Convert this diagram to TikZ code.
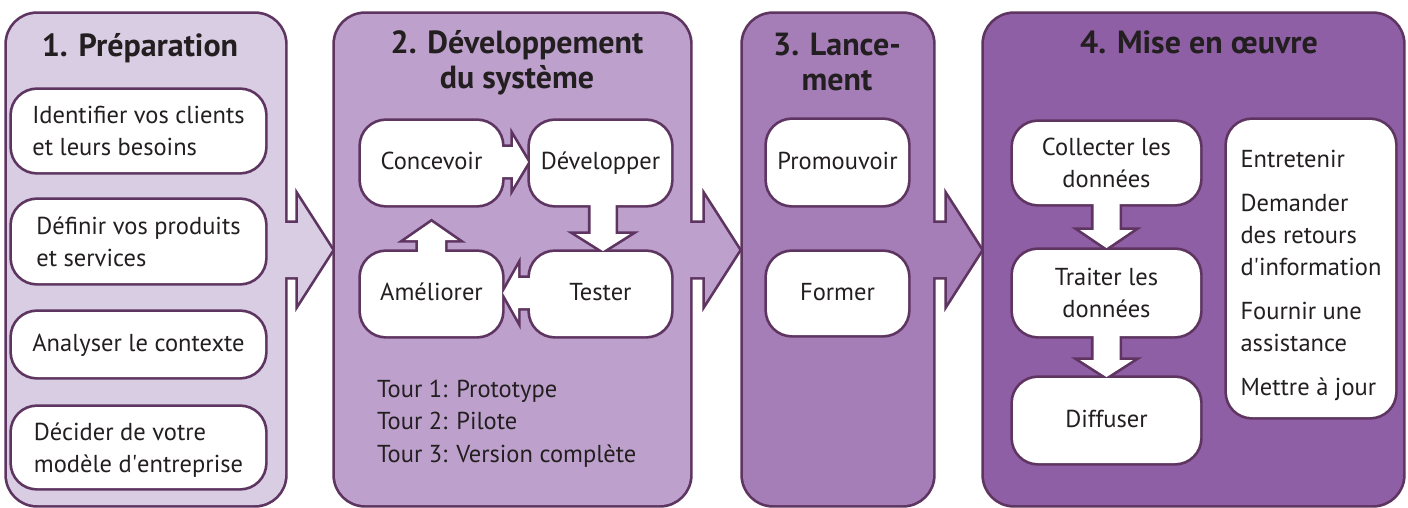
\documentclass[tikz,border=0pt]{standalone}
\usepackage{fontspec}
\setmainfont{PT Sans}
\usetikzlibrary{calc}
\pgfdeclarelayer{pstroke}
\pgfdeclarelayer{pfill}
\pgfdeclarelayer{bstroke}
\pgfdeclarelayer{bfill}
\pgfsetlayers{pstroke,pfill,bstroke,bfill,main}
\definecolor{bord}{HTML}{5E3460}
\definecolor{pone}{HTML}{D9CDE4}
\definecolor{ptwo}{HTML}{BDA1CC}
\definecolor{pthree}{HTML}{A57EB8}
\definecolor{pfour}{HTML}{8F5FA6}
\definecolor{ink}{HTML}{231F20}
% #1 layer prefix, #2 fill colour, #3 from, #4 tip, #5 ux, #6 uy, #7 half shaft, #8 half head, #9 head length
\newcommand\blkarrow[9]{%
 \begin{pgfonlayer}{#1stroke}
 \draw[line width=5.4pt,draw=bord,line join=miter]
  ($(#3)+({-(#6)*(#7)},{(#5)*(#7)})$) -- ($(#4)+({-(#5)*(#9)-(#6)*(#7)},{-(#6)*(#9)+(#5)*(#7)})$) -- ($(#4)+({-(#5)*(#9)-(#6)*(#8)},{-(#6)*(#9)+(#5)*(#8)})$) -- (#4) -- ($(#4)+({-(#5)*(#9)+(#6)*(#8)},{-(#6)*(#9)-(#5)*(#8)})$) -- ($(#4)+({-(#5)*(#9)+(#6)*(#7)},{-(#6)*(#9)-(#5)*(#7)})$) -- ($(#3)+({(#6)*(#7)},{-(#5)*(#7)})$) -- cycle;
 \end{pgfonlayer}
 \begin{pgfonlayer}{#1fill}
 \fill[#2]
  ($(#3)+({-(#6)*(#7)},{(#5)*(#7)})$) -- ($(#4)+({-(#5)*(#9)-(#6)*(#7)},{-(#6)*(#9)+(#5)*(#7)})$) -- ($(#4)+({-(#5)*(#9)-(#6)*(#8)},{-(#6)*(#9)+(#5)*(#8)})$) -- (#4) -- ($(#4)+({-(#5)*(#9)+(#6)*(#8)},{-(#6)*(#9)-(#5)*(#8)})$) -- ($(#4)+({-(#5)*(#9)+(#6)*(#7)},{-(#6)*(#9)-(#5)*(#7)})$) -- ($(#3)+({(#6)*(#7)},{-(#5)*(#7)})$) -- cycle;
 \end{pgfonlayer}}
\newcommand\boxline[1]{%
 \begin{pgfonlayer}{bstroke}
 \draw[line width=5.4pt,draw=bord,rounded corners=25pt] (#1.south west) rectangle (#1.north east);
 \end{pgfonlayer}}
\newcommand\panelline[1]{%
 \begin{pgfonlayer}{pstroke}
 \draw[line width=5.4pt,draw=bord,rounded corners=30pt] (#1.south west) rectangle (#1.north east);
 \end{pgfonlayer}}
\tikzset{
 box/.style={fill=white, rounded corners=25pt, inner sep=0pt, outer sep=0pt,
   minimum width=141pt, minimum height=84pt, text=ink, align=center,
   font=\fontsize{24.5}{32}\selectfont},
 oneline/.style={text height=18pt, text depth=5pt},
 lbox/.style={box, align=left, minimum width=253pt},
 panel/.style={rounded corners=30pt, inner sep=0pt, outer sep=0pt, minimum height=491pt},
 head/.style={text=ink, inner sep=0pt, align=center, font=\bfseries\fontsize{32}{35}\selectfont},
}
\begin{document}
\begin{tikzpicture}[x=1pt,y=-1pt]
\useasboundingbox (0,0) rectangle (1408,507);
\begin{pgfonlayer}{pstroke}
\fill[white] (0,0) rectangle (1408,507);
\end{pgfonlayer}
% panels
\begin{pgfonlayer}{pfill}
\node[panel, fill=pone, minimum width=278pt] (p1) at (146,259.5) {};
\node[panel, fill=ptwo, minimum width=355pt] (p2) at (512.5,259.5) {};
\node[panel, fill=pthree, minimum width=190pt] (p3) at (838,259.5) {};
\node[panel, fill=pfour, minimum width=419pt] (p4) at (1193.5,259.5) {};
\end{pgfonlayer}
\panelline{p1}\panelline{p2}\panelline{p3}\panelline{p4}
\coordinate (a1s) at ($(p1.north east)+(-10,236)$);
\coordinate (a1t) at ($(p2.north west)+(-3,236)$);
\coordinate (a2s) at ($(p2.north east)+(-10,236)$);
\coordinate (a2t) at ($(p3.north west)+(-4,236)$);
\coordinate (a3s) at ($(p3.north east)+(-10,236)$);
\coordinate (a3t) at ($(p4.north west)+(-3,236)$);
\blkarrow{p}{pone}{a1s}{a1t}{1}{0}{27}{53}{34}
\blkarrow{p}{ptwo}{a2s}{a2t}{1}{0}{27}{53}{34}
\blkarrow{p}{pthree}{a3s}{a3t}{1}{0}{27}{53}{34}
% headings (base = baseline of the last line)
\node[head, anchor=base] (h1) at (140,56) {1. Préparation};
\node[head, anchor=base] (h2) at (517,88) {2. Développement\\du système};
\node[head, anchor=base] (h3) at (837,90) {3. Lance-\\ment};
\node[head, anchor=base] (h4) at (1199,53) {4. Mise en œuvre};
% panel 1
\node[lbox, minimum height=82pt] (b1) at (138.5,131) {Identifier vos clients\\et leurs besoins};
\node[lbox, minimum height=83pt] (b2) at (138.5,241.5) {Définir vos produits\\et services};
\node[lbox, oneline, minimum height=65pt] (b3) at (138.5,344.5) {Analyser le contexte};
\node[lbox, text depth=0pt, minimum height=81pt] (b4) at (138.5,447.5) {Décider de votre\\modèle d\textquotesingle entreprise};
\foreach \n in {b1,b2,b3,b4} {\boxline{\n}}
% panel 2
\node[box, oneline] (conc) at (431.5,163) {Concevoir};
\node[box, oneline] (dev) at (600.5,163) {Développer};
\node[box, oneline] (amel) at (431.5,294) {Améliorer};
\node[box, oneline] (test) at (600.5,294) {Tester};
\foreach \n in {conc,dev,amel,test} {\boxline{\n}}
\coordinate (c1s) at ($(conc.east)+(-10,-1)$);
\coordinate (c1t) at ($(dev.west)+(-2,-1)$);
\coordinate (c2s) at ($(dev.south)+(2.5,-10)$);
\coordinate (c2t) at ($(test.north)+(2.5,-1)$);
\coordinate (c3s) at ($(test.west)+(10,-1)$);
\coordinate (c3t) at ($(amel.east)+(1,-1)$);
\coordinate (c4s) at ($(amel.north)+(0,10)$);
\coordinate (c4t) at ($(conc.south)+(0,17)$);
\blkarrow{b}{white}{c1s}{c1t}{1}{0}{15}{25}{15}
\blkarrow{b}{white}{c2s}{c2t}{0}{1}{12.5}{27}{17}
\blkarrow{b}{white}{c3s}{c3t}{-1}{0}{15}{26.5}{15}
\blkarrow{b}{white}{c4s}{c4t}{0}{-1}{13.5}{26}{18}
\node[anchor=base west, align=left, inner sep=0pt, text=ink, font=\fontsize{24.5}{32.5}\selectfont] (tours) at (377,462) {Tour 1: Prototype\\Tour 2: Pilote\\Tour 3: Version complète};
% panel 3
\node[box, oneline, minimum height=85pt] (prom) at (837.5,162.5) {Promouvoir};
\node[box, oneline, minimum height=83pt] (form) at (837.5,293.5) {Former};
\foreach \n in {prom,form} {\boxline{\n}}
% panel 4
\node[box, minimum width=187pt, minimum height=82pt] (coll) at (1106.5,163) {Collecter les\\données};
\node[box, minimum width=187pt, minimum height=86pt] (trait) at (1106.5,293) {Traiter les\\données};
\node[box, oneline, minimum width=187pt, minimum height=85pt] (diff) at (1106.5,420.5) {Diffuser};
\node[box, align=left, minimum width=168pt, minimum height=297pt, text height=253pt, text depth=0pt] (rbox) at (1311,268.5) {Entretenir\\[12pt]Demander\\des retours\\d\textquotesingle information\\[12pt]Fournir une\\assistance\\[12pt]Mettre à jour};
\foreach \n in {coll,trait,diff,rbox} {\boxline{\n}}
\coordinate (d1s) at ($(coll.south)+(0,-10)$);
\coordinate (d1t) at ($(trait.north)+(0,-2)$);
\coordinate (d2s) at ($(trait.south)+(0,-10)$);
\coordinate (d2t) at ($(diff.north)+(0,-1)$);
\blkarrow{b}{white}{d1s}{d1t}{0}{1}{13}{26.5}{18}
\blkarrow{b}{white}{d2s}{d2t}{0}{1}{13}{26.5}{17}
\end{tikzpicture}
\end{document}
